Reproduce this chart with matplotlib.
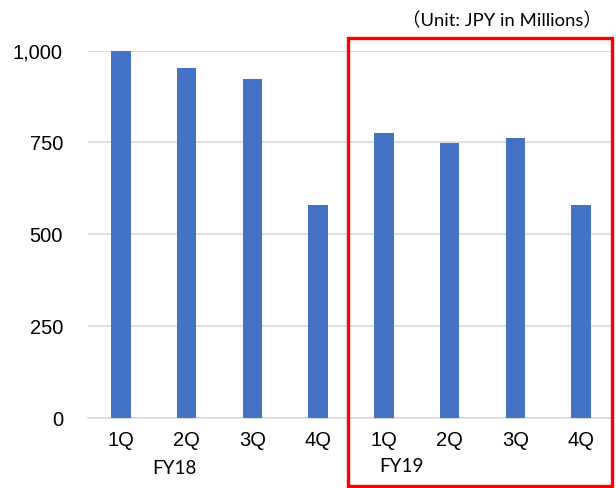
import matplotlib
matplotlib.use("Agg")
import matplotlib.pyplot as plt
from matplotlib.patches import Rectangle

# ─── data ────────────────────────────────────────────────────────
quarters = ["1Q", "2Q", "3Q", "4Q", "1Q", "2Q", "3Q", "4Q"]
values = [1000, 953, 922, 580, 776, 748, 762, 580]
fiscal_years = ["FY18", "FY19"]
y_ticks = [0, 250, 500, 750, 1000]
y_tick_labels = ["0", "250", "500", "750", "1,000"]
unit_label = "（Unit: JPY in Millions）"

W, H = 616, 488
fig = plt.figure(figsize=(W / 100, H / 100), dpi=100)
fig.patch.set_facecolor("white")

# plot area in pixels: left 88, right 614, zero line at 418, 1000 at 50.6
ax = fig.add_axes([88 / W, (H - 418) / H, (614 - 88) / W, (418 - 50.6) / H])

x = list(range(len(values)))
ax.bar(x, values, width=0.30, color="#4472C4", zorder=3)

ax.set_xlim(-0.5, len(values) - 0.5)
ax.set_ylim(0, 1000)
ax.set_yticks(y_ticks)
ax.set_yticklabels(y_tick_labels, fontsize=14.5, family="Liberation Sans")
ax.set_xticks(x)
ax.set_xticklabels(quarters, fontsize=14.5, family="Liberation Sans")
ax.tick_params(axis="y", length=0, pad=18)
ax.tick_params(axis="x", length=0, pad=9)

ax.grid(axis="y", color="#d9d9d9", linewidth=1.2, zorder=0)
for s in ("top", "right", "left"):
    ax.spines[s].set_visible(False)
ax.spines["bottom"].set_color("#d9d9d9")
ax.spines["bottom"].set_linewidth(1.2)
ax.spines["bottom"].set_zorder(1)

# fiscal year group labels under the quarter ticks
fy_font = ["Lato", "DejaVu Sans"]
fig.text(174 / W, 1 - 468 / H, fiscal_years[0], ha="center", va="center",
         fontsize=13.5, family=fy_font)
fig.text(401 / W, 1 - 466 / H, fiscal_years[1], ha="center", va="center",
         fontsize=13.5, family=fy_font)

# unit note
fig.text(502 / W, 1 - 20 / H, unit_label, ha="center", va="center",
         fontsize=13.3, family=["Lato", "Noto Sans CJK JP"])

# red highlight box around FY19
fig.patches.append(Rectangle((348 / W, 1 - 486 / H), (612 - 348) / W, (486 - 38) / H,
                             transform=fig.transFigure, fill=False,
                             edgecolor="#ff0000", linewidth=2.4, zorder=5))

fig.savefig("out.png", dpi=100)
